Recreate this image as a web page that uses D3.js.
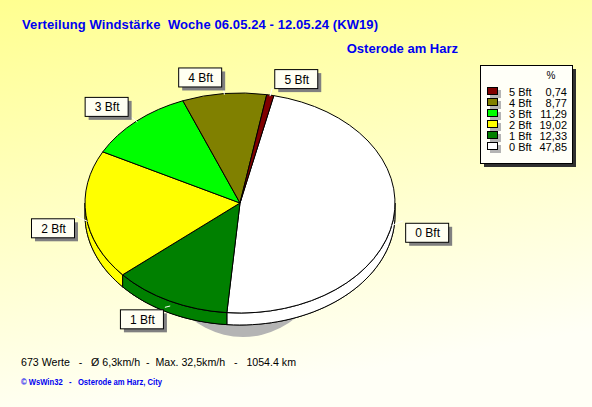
<!DOCTYPE html>
<html lang="de">
  <head>
    <meta charset="UTF-8" />
    <title>Verteilung Windstärke</title>
    <script src="https://d3js.org/d3.v7.min.js"></script>
    <style>
      body { margin: 0; }
      svg { display: block; font-family: "Liberation Sans", Arial, sans-serif; }
    </style>
  </head>
  <body>
    <svg id="chart" width="592" height="407"></svg>
    <script>
      // Daten
      const categories = ["0 Bft", "1 Bft", "2 Bft", "3 Bft", "4 Bft", "5 Bft"];
      const percents = [47.85, 12.33, 19.02, 11.29, 8.77, 0.74];
      const percentLabels = ["47,85", "12,33", "19,02", "11,29", "8,77", "0,74"];
      const colors = ["#ffffff", "#008000", "#ffff00", "#00ff00", "#808000", "#800000"];
      const legendOrder = [5, 4, 3, 2, 1, 0];

      const width = 592, height = 407;
      const cx = 240, cy = 203, rx = 155, ry = 110, depth = 12;
      const startDeg = 12.6;

      const svg = d3.select("#chart");

      // Hintergrund
      const defs = svg.append("defs");
      const grad = defs.append("linearGradient").attr("id", "bg")
        .attr("x1", 0).attr("y1", 0).attr("x2", 0.25).attr("y2", 1);
      grad.append("stop").attr("offset", "0%").attr("stop-color", "#ffff90");
      grad.append("stop").attr("offset", "100%").attr("stop-color", "#fffff6");
      svg.append("rect").attr("width", width).attr("height", height).attr("fill", "url(#bg)");

      // Titel
      svg.append("text").attr("x", 22).attr("y", 29)
        .attr("fill", "#0000f0").attr("font-weight", "bold").attr("font-size", 13)
        .attr("xml:space", "preserve").attr("textLength", 356)
        .text("Verteilung Windstärke  Woche 06.05.24 - 12.05.24 (KW19)");
      svg.append("text").attr("x", 458).attr("y", 53).attr("text-anchor", "end")
        .attr("fill", "#0000f0").attr("font-weight", "bold").attr("font-size", 13)
        .text("Osterode am Harz");

      // Torte
      const pie = d3.pie().sort(null).value(d => d)
        .startAngle(startDeg * Math.PI / 180)
        .endAngle(startDeg * Math.PI / 180 + 2 * Math.PI);
      const arcs = pie(percents);

      const px = (a, k = 1) => cx + k * rx * Math.sin(a);
      const py = (a, k = 1) => cy - k * ry * Math.cos(a);

      // Schatten
      svg.append("ellipse").attr("cx", cx + 3).attr("cy", cy + 13)
        .attr("rx", 98).attr("ry", 121).attr("fill", "#b4b4b4");

      const arc = d3.arc().innerRadius(0).outerRadius(rx);

      // Boden
      svg.append("g")
        .attr("transform", `translate(${cx},${cy + depth}) scale(1,${ry / rx})`)
        .selectAll("path").data(arcs).join("path")
        .attr("d", arc).attr("fill", (d, i) => colors[i])
        .attr("stroke", "#000").attr("stroke-width", 1).attr("vector-effect", "non-scaling-stroke");

      // Seitenflächen
      const side = svg.append("g");
      arcs.forEach((d, i) => {
        const a0 = Math.max(d.startAngle, Math.PI / 2);
        const a1 = Math.min(d.endAngle, Math.PI * 3 / 2);
        if (a1 <= a0) return;
        const steps = d3.range(0, 1.0001, 1 / 40).map(t => a0 + (a1 - a0) * t);
        const pts = steps.map(a => [px(a), py(a)])
          .concat(steps.slice().reverse().map(a => [px(a), py(a) + depth]));
        side.append("path")
          .attr("d", d3.line()(pts) + "Z")
          .attr("fill", colors[i]).attr("stroke", "#000").attr("stroke-width", 1);
      });

      // Oberseite
      svg.append("g")
        .attr("transform", `translate(${cx},${cy}) scale(1,${ry / rx})`)
        .selectAll("path").data(arcs).join("path")
        .attr("d", arc).attr("fill", (d, i) => colors[i])
        .attr("stroke", "#000").attr("stroke-width", 1).attr("vector-effect", "non-scaling-stroke");

      // Beschriftungen
      const boxW = 43, boxH = 19, k = 1.065;
      const labels = svg.append("g");
      arcs.forEach((d, i) => {
        const m = (d.startAngle + d.endAngle) / 2;
        const ax = px(m, k), ay = py(m, k);
        labels.append("line")
          .attr("x1", px(m, 0.99)).attr("y1", py(m, 0.99) + (Math.cos(m) < 0 ? depth / 2 : 0))
          .attr("x2", ax).attr("y2", ay)
          .attr("stroke", "#fff").attr("stroke-width", 1);
        const bx = Math.sin(m) > 0 ? ax + 2 : ax - boxW - 2;
        const by = Math.cos(m) > 0 ? ay - boxH : ay + 2;
        labels.append("rect").attr("x", bx + 4).attr("y", by + 4)
          .attr("width", boxW).attr("height", boxH).attr("fill", "#808080");
        labels.append("rect").attr("x", bx + 0.5).attr("y", by + 0.5)
          .attr("width", boxW).attr("height", boxH)
          .attr("fill", "#fffff2").attr("stroke", "#000");
        labels.append("text").attr("x", bx + boxW / 2 + 1).attr("y", by + 14.5)
          .attr("text-anchor", "middle").attr("font-size", 12).attr("fill", "#000")
          .text(categories[i]);
      });

      // Legende
      const lg = svg.append("g").attr("transform", "translate(480,65)");
      lg.append("rect").attr("x", 4).attr("y", 4).attr("width", 92).attr("height", 98).attr("fill", "#303030");
      lg.append("rect").attr("x", 0.5).attr("y", 0.5).attr("width", 92).attr("height", 98)
        .attr("fill", "#fffff8").attr("stroke", "#000");
      lg.append("text").attr("x", 71).attr("y", 14).attr("font-size", 10).attr("text-anchor", "middle").text("%");
      legendOrder.forEach((idx, r) => {
        const y = 23 + r * 11;
        lg.append("rect").attr("x", 10).attr("y", y + 2).attr("width", 11).attr("height", 8).attr("fill", "#b4b4b4");
        lg.append("rect").attr("x", 7.5).attr("y", y - 0.5).attr("width", 10).attr("height", 7)
          .attr("fill", colors[idx]).attr("stroke", "#000");
        lg.append("text").attr("x", 29).attr("y", y + 7.5).attr("font-size", 11).text(categories[idx]);
        lg.append("text").attr("x", 87).attr("y", y + 7.5).attr("font-size", 11)
          .attr("text-anchor", "end").text(percentLabels[idx]);
      });

      // Fußzeile
      svg.append("text").attr("x", 21).attr("y", 366).attr("font-size", 11.5).attr("fill", "#000")
        .attr("xml:space", "preserve").attr("textLength", 275).attr("lengthAdjust", "spacingAndGlyphs")
        .text("673 Werte   -   Ø 6,3km/h  -  Max. 32,5km/h   -   1054.4 km");
      svg.append("text").attr("x", 21).attr("y", 385).attr("font-size", 8.5).attr("fill", "#0000f0")
        .attr("font-weight", "bold").attr("xml:space", "preserve")
        .attr("textLength", 141).attr("lengthAdjust", "spacingAndGlyphs")
        .text("© WsWin32   -   Osterode am Harz, City");
    </script>
  </body>
</html>
